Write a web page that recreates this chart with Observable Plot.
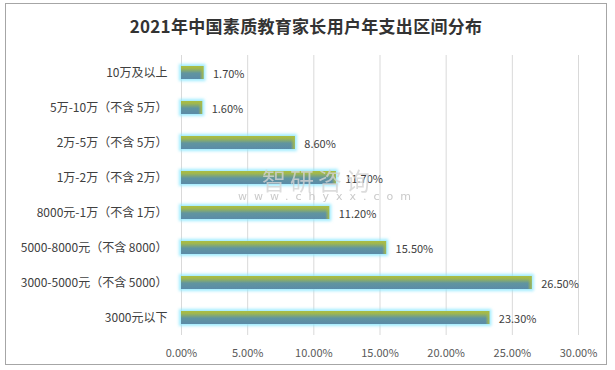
<!DOCTYPE html>
<html>
<head>
<meta charset="utf-8">
<script src="https://cdn.jsdelivr.net/npm/d3@7"></script>
<script src="https://cdn.jsdelivr.net/npm/@observablehq/plot@0.6"></script>
<style>
  html, body { margin: 0; padding: 0; background: #fff; }
  body { width: 615px; height: 370px; position: relative; overflow: hidden;
         font-family: "Noto Sans CJK SC", "Noto Sans", sans-serif; }
  #frame { position: absolute; left: 5px; top: 3px; width: 602px; height: 362px;
           border: 1px solid #a6a6a6; box-sizing: border-box; }
  #title { position: absolute; left: 5px; top: 13px; width: 602px; text-align: center;
           font-size: 17px; font-weight: bold; color: #333; letter-spacing: 0.3px; }
  #chart { position: absolute; left: 0; top: 0; }
  .wm1 { position: absolute; left: 262px; top: 162px; font-size: 24px; color: #d4d4d4; letter-spacing: 4px; opacity: 0.8; }
  .wm2 { position: absolute; left: 238px; top: 190px; font-size: 11px; color: #c4c4c4; letter-spacing: 7px; opacity: 0.9; font-family: "DejaVu Sans", sans-serif; }
</style>
</head>
<body>
<div id="frame"></div>
<div id="chart"></div>
<div class="wm1">智研咨询</div>
<div class="wm2">www.chyxx.com</div>
<div id="title">2021年中国素质教育家长用户年支出区间分布</div>
<script>
const categories = [
  "10万及以上",
  "5万-10万（不含 5万）",
  "2万-5万（不含 5万）",
  "1万-2万（不含 2万）",
  "8000元-1万（不含 1万）",
  "5000-8000元（不含 8000）",
  "3000-5000元（不含 5000）",
  "3000元以下"
];
const values = [1.7, 1.6, 8.6, 11.7, 11.2, 15.5, 26.5, 23.3];
const xTicks = [0, 5, 10, 15, 20, 25, 30];

const data = categories.map((c, i) => ({category: c, value: values[i]}));

const defs = () => {
  const d = d3.create("svg:defs");
  const g = d.append("linearGradient").attr("id", "barGrad").attr("x1", 0).attr("y1", 0).attr("x2", 0).attr("y2", 1);
  g.append("stop").attr("offset", "0%").attr("stop-color", "#acbd42");
  g.append("stop").attr("offset", "18%").attr("stop-color", "#a0b84e");
  g.append("stop").attr("offset", "55%").attr("stop-color", "#6095a0");
  g.append("stop").attr("offset", "100%").attr("stop-color", "#5a8ba8");
  const h = d.append("linearGradient").attr("id", "endGrad").attr("x1", 0).attr("y1", 0).attr("x2", 1).attr("y2", 0);
  h.append("stop").attr("offset", "0%").attr("stop-color", "#a8bb48").attr("stop-opacity", 0);
  h.append("stop").attr("offset", "100%").attr("stop-color", "#a8bb48").attr("stop-opacity", 1);
  const f = d.append("filter").attr("id", "glow").attr("x", "-50%").attr("y", "-100%").attr("width", "200%").attr("height", "300%");
  f.append("feMorphology").attr("in", "SourceAlpha").attr("operator", "dilate").attr("radius", 2).attr("result", "dil");
  f.append("feGaussianBlur").attr("in", "dil").attr("stdDeviation", 1.4).attr("result", "blur");
  f.append("feFlood").attr("flood-color", "#8ee9ff").attr("flood-opacity", 0.85);
  f.append("feComposite").attr("in2", "blur").attr("operator", "in").attr("result", "glowc");
  const m = f.append("feMerge");
  m.append("feMergeNode").attr("in", "glowc");
  m.append("feMergeNode").attr("in", "SourceGraphic");
  return d.node();
};

const chart = Plot.plot({
  width: 615,
  height: 370,
  marginLeft: 181,
  marginRight: 37,
  marginTop: 55,
  marginBottom: 35,
  style: {fontFamily: "'Noto Sans CJK SC', 'Noto Sans', sans-serif", fontSize: "11px", background: "transparent"},
  x: {domain: [0, 30], ticks: xTicks, tickFormat: d => d.toFixed(2) + "%", label: null},
  y: {domain: categories, padding: 0, label: null},
  marks: [
    defs,
    Plot.ruleX(xTicks, {stroke: "#d9d9d9", strokeWidth: 1}),
    Plot.barX(data, {y: "category", x: "value", fill: "url(#barGrad)", insetTop: 11, insetBottom: 11, render: (i, s, v, d, c, next) => { const g = next(i, s, v, d, c); g.setAttribute("filter", "url(#glow)"); return g; }}),
    Plot.barX(data, {y: "category", x1: d => Math.max(0, d.value - 0.3), x2: "value", fill: "url(#endGrad)", insetTop: 11, insetBottom: 11}),
    Plot.text(data, {y: "category", x: "value", text: d => d.value.toFixed(2) + "%", textAnchor: "start", dx: 9, dy: 1, fill: "#404040", fontSize: 11}),
    Plot.axisX({ticks: xTicks, tickFormat: d => d.toFixed(2) + "%", tickSize: 0, tickPadding: 14, fill: "#595959", fontSize: 11, label: null}),
    Plot.axisY({tickSize: 0, tickPadding: 14, fill: "#404040", fontSize: 12, label: null})
  ]
});
document.getElementById("chart").appendChild(chart);
</script>
</body>
</html>
